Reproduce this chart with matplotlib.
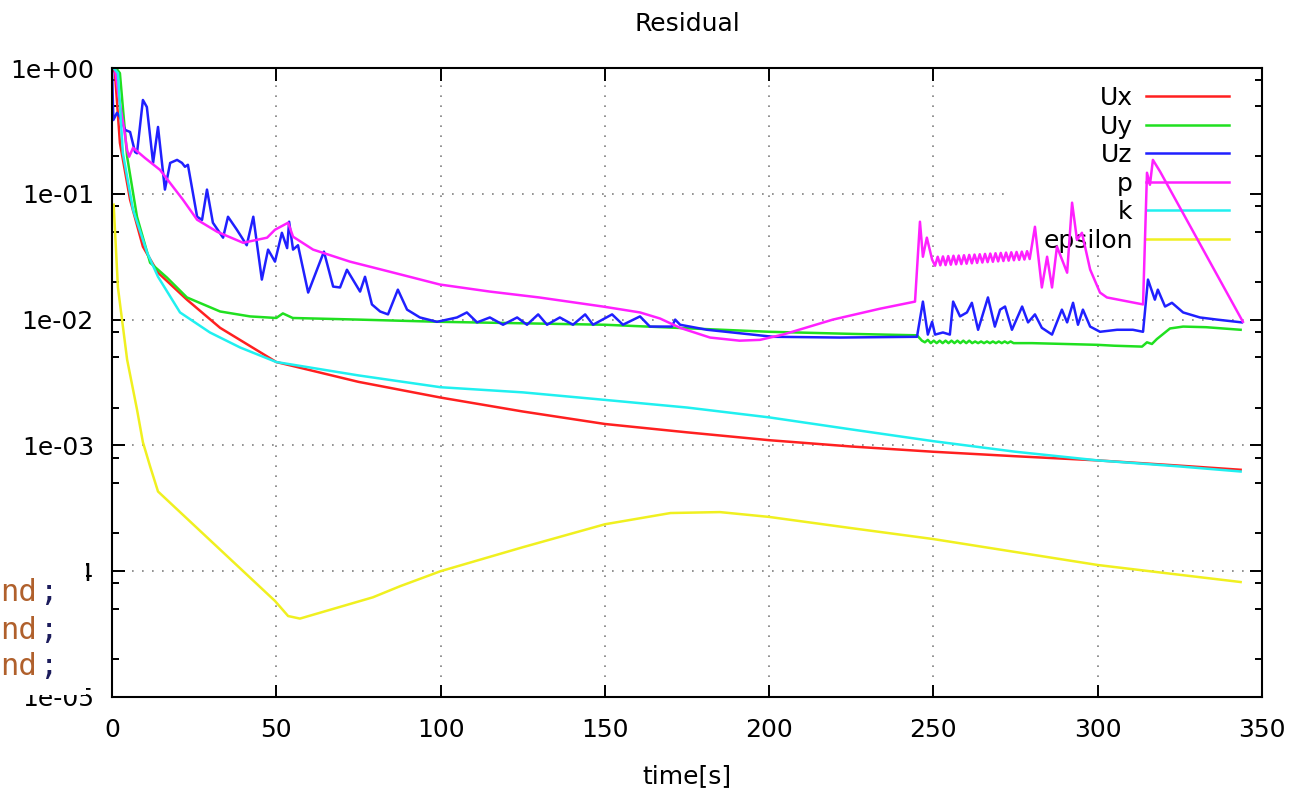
# residual plot
import matplotlib
matplotlib.use('Agg')
import matplotlib.pyplot as plt
from matplotlib.ticker import FixedLocator, NullFormatter
from matplotlib.patches import Rectangle

t_ux = [0.3, 0.9, 2.4, 5.5, 9.4, 14.0, 22.8, 32.9, 50, 75, 100, 125, 150, 175,
        200, 225, 250, 275, 300, 325, 343.5]
ux = [1.0, 0.91, 0.254, 0.0896, 0.038, 0.0236, 0.0144, 0.0086, 0.0046, 0.0032,
      0.0024, 0.00186, 0.00148, 0.00127, 0.0011, 0.00098, 0.00089, 0.00082,
      0.00076, 0.00069, 0.00064]

t_uy = [1.2, 2.4, 4.6, 7.6, 11.6, 16.7, 22.8, 32.9, 42, 50, 52, 55, 75, 100, 150,
        200, 225, 245, 246.5, 247.4, 248.3, 249.2, 250.1, 251.0, 251.9, 252.8,
        253.7, 254.6, 255.5, 256.4, 257.3, 258.2, 259.1, 260.0, 260.9, 261.8,
        262.7, 263.6, 264.5, 265.4, 266.3, 267.2, 268.1, 269.0, 269.9, 270.8,
        271.7, 272.6, 273.5, 274.4, 280, 290, 300, 305, 313.5, 315, 316.5, 318,
        322, 326, 333, 343.5]
uy = [1.0, 0.91, 0.197, 0.0657, 0.0283, 0.0216, 0.015, 0.0116, 0.0106, 0.0103,
      0.0112, 0.0103, 0.0100, 0.0096, 0.0091, 0.0080, 0.0077, 0.0075, 0.0068,
      0.0066, 0.0069, 0.0065, 0.0068, 0.0065, 0.0068, 0.0065, 0.0068, 0.0065,
      0.0068, 0.0065, 0.0068, 0.0065, 0.0068, 0.0065, 0.0068, 0.0065, 0.0067,
      0.0065, 0.0067, 0.0065, 0.0067, 0.0065, 0.0067, 0.0065, 0.0067, 0.0065,
      0.0067, 0.0065, 0.0067, 0.0065, 0.0065, 0.0064, 0.0063, 0.0062, 0.0061,
      0.0066, 0.0064, 0.0070, 0.0085, 0.0088, 0.0087, 0.0083]

t_uz = [0.0, 0.4, 1.5, 2.4, 4.0, 5.5, 7.0, 7.6, 9.4, 10.6, 12.5, 14.0, 16.1, 17.7,
        19.8, 21.3, 22.2, 23.1, 25.9, 27.4, 28.9, 30.7, 33.8, 35.3, 38.0, 41.0,
        43.0, 45.6, 47.5, 49.6, 51.7, 53.3, 53.9, 55.1, 56.6, 59.7, 64.5, 67.3,
        69.4, 71.5, 75.5, 77.0, 79.1, 81.6, 84.0, 87.0, 89.8, 93.7, 98.9, 105.0,
        108.0, 111.1, 115.0, 119.0, 123.3, 126.3, 129.7, 132.4, 136.3, 140.3,
        144.0, 146.4, 152.2, 155.5, 160.7, 163.7, 166.8, 170.4, 171.4, 172.9,
        181.1, 201.2, 221.6, 245.0, 246.8, 248.3, 249.6, 250.5, 252.9, 255.0,
        256.0, 258.1, 260.2, 261.7, 263.6, 266.6, 268.7, 270.3, 271.8, 273.9,
        277.0, 278.8, 280.9, 283.0, 286.1, 289.1, 290.7, 292.5, 294.0, 295.5,
        297.7, 300.7, 305.9, 310.7, 313.8, 315.3, 317.4, 318.3, 320.5, 322.6,
        326.0, 331.1, 336.3, 343.9]
uz = [1.0, 0.386, 0.44, 0.408, 0.322, 0.31, 0.215, 0.21, 0.557, 0.49, 0.176,
      0.34, 0.108, 0.176, 0.186, 0.176, 0.164, 0.17, 0.0657, 0.062, 0.108,
      0.0589, 0.0448, 0.0657, 0.0518, 0.039, 0.0657, 0.0208, 0.036, 0.0289,
      0.049, 0.037, 0.06, 0.036, 0.039, 0.0164, 0.0347, 0.0183, 0.018, 0.0249,
      0.0167, 0.0219, 0.0132, 0.0116, 0.011, 0.0173, 0.012, 0.0104, 0.0096,
      0.0104, 0.0114, 0.0095, 0.0104, 0.0091, 0.0104, 0.0091, 0.011, 0.0091,
      0.0104, 0.0091, 0.011, 0.0091, 0.011, 0.0091, 0.0106, 0.0088, 0.0088,
      0.0088, 0.0100, 0.0091, 0.0083, 0.0073, 0.0072, 0.0073, 0.0139, 0.0076,
      0.0096, 0.0076, 0.0079, 0.0076, 0.0139, 0.0106, 0.0114, 0.0136, 0.0083,
      0.0150, 0.0088, 0.0120, 0.0127, 0.0083, 0.0127, 0.0095, 0.0110, 0.0086,
      0.0076, 0.0120, 0.0095, 0.0136, 0.0091, 0.0120, 0.0088, 0.0080, 0.0083,
      0.0083, 0.0080, 0.0208, 0.0144, 0.0173, 0.0127, 0.0136, 0.0114, 0.0104,
      0.0100, 0.0095]

t_p = [0.9, 2.0, 3.5, 4.6, 5.2, 6.4, 10.0, 14.6, 21.6, 25.9, 32.0, 39.9, 47.2,
       49.6, 53.6, 55.1, 61.2, 72.4, 84.6, 99.8, 115.0, 130.0, 149.4, 160.7,
       166.8, 172.9, 182.0, 191.0, 197.2, 204.2, 219.4, 233.7, 244.4, 245.9,
       246.8, 248.0, 249.6, 250.5, 251.3, 252.1, 252.9, 253.7, 254.5, 255.3,
       256.1, 256.9, 257.7, 258.5, 259.3, 260.1, 260.9, 261.7, 262.5, 263.3,
       264.1, 264.9, 265.7, 266.5, 267.3, 268.1, 268.9, 269.7, 270.5, 271.3,
       272.1, 272.9, 273.7, 274.5, 275.3, 276.1, 276.9, 277.7, 278.5, 279.3,
       280.9, 283.0, 284.6, 286.1, 287.6, 290.7, 292.2, 293.7, 295.2, 297.7,
       300.7, 302.8, 313.8, 315.0, 315.9, 316.8, 319.0, 344.2]
p = [1.0, 0.6, 0.35, 0.223, 0.197, 0.232, 0.193, 0.155, 0.0896, 0.0622, 0.0499,
     0.0408, 0.0448, 0.0518, 0.0589, 0.0456, 0.036, 0.0289, 0.024, 0.019,
     0.0167, 0.015, 0.0127, 0.0114, 0.0102, 0.0086, 0.0072, 0.0068, 0.0069,
     0.0076, 0.0100, 0.0122, 0.0139, 0.060, 0.0316, 0.0448, 0.030,
     0.0268, 0.0316, 0.0270, 0.0318, 0.0271, 0.0320, 0.0273, 0.0322, 0.0275,
     0.0323, 0.0276, 0.0325, 0.0278, 0.0327, 0.0280, 0.0329, 0.0282, 0.0331,
     0.0284, 0.0333, 0.0286, 0.0335, 0.0288, 0.0337, 0.0290, 0.0339, 0.0292,
     0.0341, 0.0294, 0.0343, 0.0296, 0.0345, 0.0298, 0.0347, 0.0300, 0.0350,
     0.0303, 0.0547, 0.018, 0.0316, 0.018, 0.038, 0.0236, 0.085, 0.043, 0.049,
     0.025, 0.0164, 0.015, 0.0132, 0.147, 0.118, 0.186, 0.15, 0.0096]

t_k = [0.5, 1.8, 3.3, 6.4, 10.7, 14.0, 20.7, 29.8, 39, 50, 75, 100, 125, 150, 175,
       200, 225, 250, 275, 300, 325, 343.5]
k = [1.0, 0.91, 0.211, 0.0746, 0.034, 0.0219, 0.0114, 0.0079, 0.0060, 0.0046,
     0.0036, 0.0029, 0.00264, 0.0023, 0.0020, 0.00167, 0.00134, 0.00108,
     0.00089, 0.00076, 0.00068, 0.00062]

t_eps = [0.5, 1.8, 4.6, 7.6, 9.4, 11.6, 14.0, 49.6, 53.6, 57.2, 79.4, 87.7, 100,
         125, 150, 170, 185, 200, 225, 250, 275, 300, 320, 343.5]
eps = [0.082, 0.018, 0.0048, 0.00193, 0.00106, 0.00068, 0.00043, 5.8e-5, 4.4e-5,
       4.2e-5, 6.2e-5, 7.6e-5, 1.0e-4, 1.55e-4, 2.36e-4, 2.9e-4, 2.95e-4, 2.7e-4,
       2.2e-4, 1.8e-4, 1.42e-4, 1.12e-4, 9.7e-5, 8.2e-5]

names = ['Ux', 'Uy', 'Uz', 'p', 'k', 'epsilon']
colors = ['#ff2020', '#20e020', '#2020ff', '#ff20ff', '#20f0f0', '#f0f020']
series = [(t_ux, ux), (t_uy, uy), (t_uz, uz), (t_p, p), (t_k, k), (t_eps, eps)]

ytick_vals = [1e-5, 1e-4, 1e-3, 1e-2, 1e-1, 1]
ytick_labels = ['1e-05', '1e-04', '1e-03', '1e-02', '1e-01', '1e+00']
xtick_vals = [0, 50, 100, 150, 200, 250, 300, 350]

fig = plt.figure(figsize=(12.95, 7.88), dpi=100)
ax = fig.add_axes([0.0865, 0.1155, 0.888, 0.7982])

for (tt, vv), name, col in zip(series, names, colors):
    ax.plot(tt, vv, color=col, lw=1.8, label=name)

ax.set_yscale('log')
ax.set_xlim(0, 350)
ax.set_ylim(1e-5, 1)
ax.set_xticks(xtick_vals)
ax.yaxis.set_major_locator(FixedLocator(ytick_vals))
ax.set_yticklabels(ytick_labels)
ax.yaxis.set_minor_locator(FixedLocator(
    [m * 10.0**e for e in range(-5, 0) for m in (2, 5, 8)]))
ax.yaxis.set_minor_formatter(NullFormatter())

ax.tick_params(which='both', direction='in', top=True, right=True,
               labelsize=18, colors='black')
ax.tick_params(which='major', length=9, width=1.4)
ax.tick_params(which='minor', length=5, width=1.4)
ax.tick_params(axis='x', pad=15)
ax.tick_params(axis='y', pad=13)
for s in ax.spines.values():
    s.set_linewidth(1.5)

ax.grid(True, which='major', color='#808080', linestyle=(0, (1, 5)), lw=1.2)
# blank area behind the key, like gnuplot's opaque key
ax.add_patch(Rectangle((0.781, 0.703), 0.204, 0.297, transform=ax.transAxes,
                       facecolor='white', edgecolor='none', zorder=1.8))

leg = ax.legend(loc='upper right', bbox_to_anchor=(0.9713, 0.971),
                frameon=False, markerfirst=False, fontsize=18,
                handlelength=3.3, handletextpad=0.55, labelspacing=0.18,
                borderpad=0, borderaxespad=0)
leg.set_zorder(1.9)

ax.set_title('Residual', fontsize=18, pad=27)
ax.set_xlabel('time[s]', fontsize=18, labelpad=16)

# piece of an editor window lying over the left edge of the screenshot
fig.patches.append(Rectangle((0, 0.118), 0.0664, 0.174,
                             transform=fig.transFigure, facecolor='white',
                             edgecolor='none', zorder=5))
for yy in (0.2487, 0.2005, 0.1536):
    fig.text(0.0, yy, 'nd', color='#b0602c', fontsize=22,
             family='DejaVu Sans Mono', va='center', zorder=6)
    fig.text(0.0298, yy, ';', color='#1c1c5c', fontsize=22,
             family='DejaVu Sans Mono', va='center', zorder=6)

fig.savefig('out.png', dpi=100)
